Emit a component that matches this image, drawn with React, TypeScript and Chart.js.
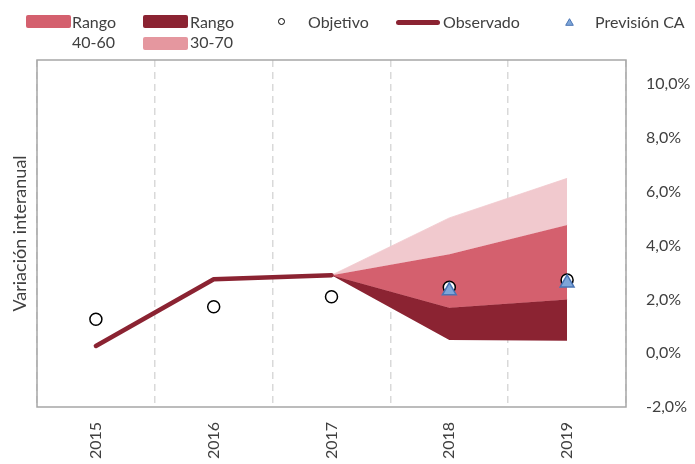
import React, { useEffect, useRef } from 'react';
import { Chart, registerables } from 'chart.js';

Chart.register(...registerables);

const categories = ['2015', '2016', '2017', '2018', '2019'];
const observado = [0.27, 2.75, 2.9, null, null];
const objetivo = [1.26, 1.73, 2.1, 2.45, 2.72];
const prevision = [null, null, null, 2.32, 2.61];
const fanLow = [null, null, 2.9, 0.49, 0.46];
const fanDarkTop = [null, null, 2.9, 1.69, 2.0];
const fanMidTop = [null, null, 2.9, 3.68, 4.77];
const fanLightTop = [null, null, 2.9, 5.03, 6.5];
const yTicks = [-2, 0, 2, 4, 6, 8, 10];
const yTitle = 'Variación interanual';

const DARK = '#8B2332';
const MID = '#D4606E';
const LIGHT_FAN = '#F1C9CE';
const LIGHT_LEGEND = '#E5979F';
const TEXT = '#404040';
const FONT = 'Lato';

const fmt = (v: number) => v.toFixed(1).replace('.', ',') + '%';

const boxPlugin = {
  id: 'box',
  afterDraw(chart: any) {
    const { ctx, chartArea } = chart;
    const { left, top, right, bottom } = chartArea;
    ctx.save();
    ctx.strokeStyle = '#A6A6A6';
    ctx.lineWidth = 1.5;
    ctx.strokeRect(left, top, right - left, bottom - top);
    // right-axis tick labels, left aligned like the original
    const ys = chart.scales.y;
    ctx.fillStyle = TEXT;
    ctx.font = `16px ${FONT}`;
    ctx.textAlign = 'left';
    ctx.textBaseline = 'middle';
    ys.ticks.forEach((t: any) => {
      ctx.fillText(fmt(t.value), right + 20, ys.getPixelForValue(t.value));
    });
    ctx.restore();
  },
};

const textStyle = (left: number, cy: number): React.CSSProperties => ({
  position: 'absolute',
  left,
  top: cy - 10,
  height: 20,
  lineHeight: '20px',
  fontFamily: FONT,
  fontSize: 16,
  color: TEXT,
  whiteSpace: 'nowrap',
});

const swatch = (left: number, top: number, color: string): React.CSSProperties => ({
  position: 'absolute',
  left,
  top,
  width: 45,
  height: 13,
  background: color,
  borderRadius: 2,
});

export default function App() {
  const ref = useRef<HTMLCanvasElement | null>(null);

  useEffect(() => {
    document.body.style.margin = '0';
    const canvas = ref.current;
    if (!canvas) return;
    const chart = new Chart(canvas, {
      type: 'line',
      data: {
        labels: categories,
        datasets: [
          {
            label: 'low',
            data: fanLow,
            borderWidth: 0,
            borderColor: DARK,
            pointRadius: 0,
            fill: false,
            order: 10,
          },
          {
            label: 'Rango',
            data: fanDarkTop,
            borderWidth: 0.8,
            borderColor: DARK,
            backgroundColor: DARK,
            pointRadius: 0,
            fill: '-1',
            order: 9,
          },
          {
            label: 'Rango 40-60',
            data: fanMidTop,
            borderWidth: 0.8,
            borderColor: MID,
            backgroundColor: MID,
            pointRadius: 0,
            fill: '-1',
            order: 8,
          },
          {
            label: '30-70',
            data: fanLightTop,
            borderWidth: 0.8,
            borderColor: LIGHT_FAN,
            backgroundColor: LIGHT_FAN,
            pointRadius: 0,
            fill: '-1',
            order: 7,
          },
          {
            label: 'Observado',
            data: observado,
            borderColor: DARK,
            borderWidth: 4.5,
            borderCapStyle: 'round',
            borderJoinStyle: 'round',
            pointRadius: 0,
            fill: false,
            order: 3,
          },
          {
            label: 'Objetivo',
            data: objetivo,
            showLine: false,
            pointStyle: 'circle',
            pointRadius: 6,
            pointBackgroundColor: '#FFFFFF',
            pointBorderColor: '#000000',
            pointBorderWidth: 1.5,
            fill: false,
            order: 2,
          },
          {
            label: 'Previsión CA',
            data: prevision,
            showLine: false,
            pointStyle: 'triangle',
            pointRadius: 8,
            pointBackgroundColor: '#7EA6D8',
            pointBorderColor: '#4A74B4',
            pointBorderWidth: 1.5,
            fill: false,
            order: 1,
          },
        ] as any,
      },
      options: {
        animation: false,
        responsive: false,
        events: [],
        layout: { padding: { top: 60, left: 0, right: 0, bottom: 0 } },
        plugins: {
          legend: { display: false },
          tooltip: { enabled: false },
        },
        scales: {
          x: {
            type: 'category',
            offset: true,
            grid: {
              offset: true,
              color: '#D9D9D9',
              lineWidth: 1.5,
              drawTicks: false,
            },
            border: { display: false, dash: [7, 5] },
            ticks: {
              minRotation: 90,
              maxRotation: 90,
              padding: 15,
              color: TEXT,
              font: { family: FONT, size: 16 },
            },
            afterFit: (s: any) => {
              s.height = 57;
            },
          },
          y: {
            type: 'linear',
            position: 'right',
            min: -2,
            max: 10.9,
            grid: { display: false },
            border: { display: false },
            ticks: {
              display: false,
              stepSize: 2,
              includeBounds: false,
            },
            afterBuildTicks: (s: any) => {
              s.ticks = yTicks.map((v) => ({ value: v }));
            },
            afterFit: (s: any) => {
              s.width = 69;
            },
          },
          yLeft: {
            type: 'linear',
            position: 'left',
            display: true,
            grid: { display: false },
            border: { display: false },
            ticks: { display: false },
            title: {
              display: true,
              text: yTitle,
              color: TEXT,
              font: { family: FONT, size: 18 },
              padding: { top: 9, bottom: 0 },
            },
            afterFit: (s: any) => {
              s.width = 37;
            },
          },
        },
      } as any,
      plugins: [boxPlugin],
    });
    return () => chart.destroy();
  }, []);

  return (
    <div style={{ position: 'relative', width: 695, height: 464 }}>
      <canvas ref={ref} width={695} height={464} style={{ display: 'block' }} />
      <div style={swatch(26, 15, MID)} />
      <div style={textStyle(72, 22)}>Rango</div>
      <div style={textStyle(72, 42)}>40-60</div>
      <div style={swatch(143, 15, DARK)} />
      <div style={textStyle(190, 22)}>Rango</div>
      <div style={swatch(143, 37, LIGHT_LEGEND)} />
      <div style={textStyle(190, 42)}>30-70</div>
      <div
        style={{
          position: 'absolute',
          left: 278,
          top: 18,
          width: 5,
          height: 5,
          border: '1.5px solid #000',
          borderRadius: '50%',
          background: '#fff',
        }}
      />
      <div style={textStyle(308, 22)}>Objetivo</div>
      <div
        style={{
          position: 'absolute',
          left: 396,
          top: 20,
          width: 44,
          height: 4.5,
          background: DARK,
          borderRadius: 2.5,
        }}
      />
      <div style={textStyle(443, 22)}>Observado</div>
      <svg
        style={{ position: 'absolute', left: 565, top: 18 }}
        width={9}
        height={8}
        viewBox="0 0 9 8"
      >
        <polygon points="4.5,0.7 8.3,7.3 0.7,7.3" fill="#7EA6D8" stroke="#4A74B4" strokeWidth={1} />
      </svg>
      <div style={textStyle(595, 22)}>Previsión CA</div>
    </div>
  );
}
